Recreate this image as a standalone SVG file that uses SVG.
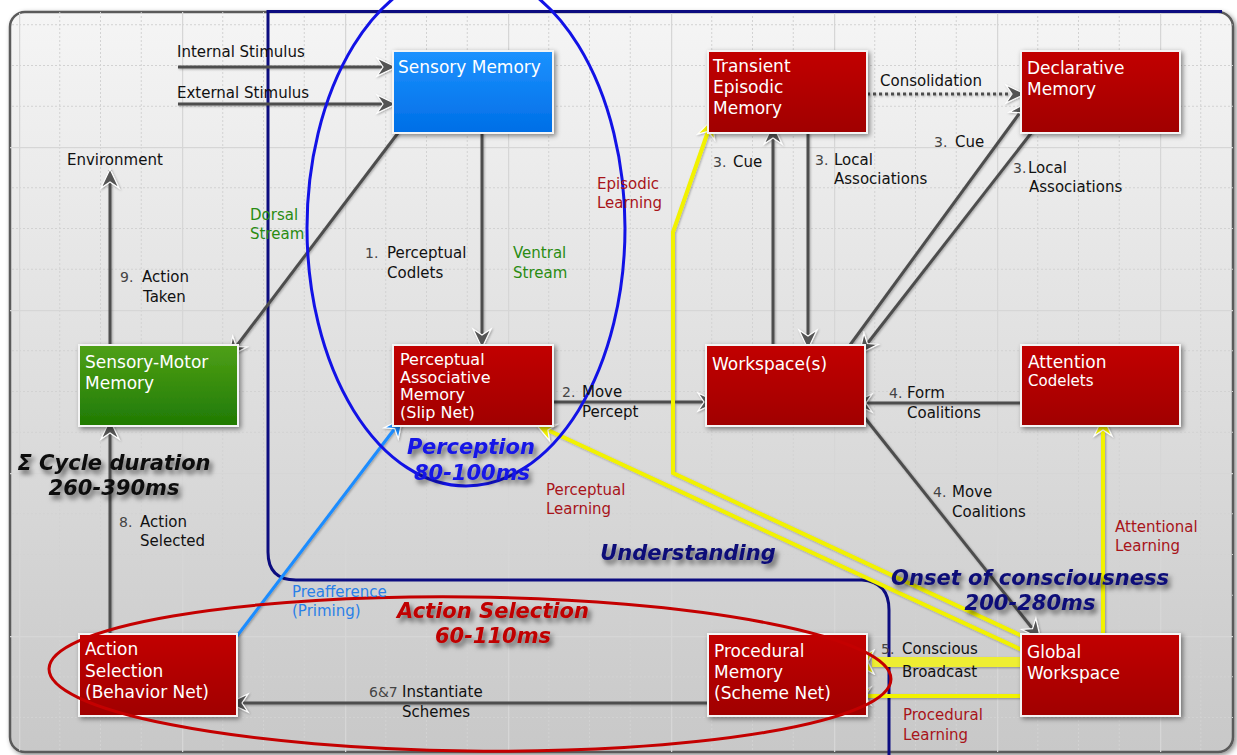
<svg xmlns="http://www.w3.org/2000/svg" width="1237" height="755" viewBox="0 0 1237 755">
<style>
.lbl{font-family:"DejaVu Sans","Liberation Sans",sans-serif;font-size:15px;fill:#111}
.num{font-size:14px;fill:#444}
.red{fill:#a8141a}
.grn{fill:#2a8c12}
.blu{fill:#2a80e8}
.nt{font-family:"DejaVu Sans","Liberation Sans",sans-serif;font-size:17px;fill:#ffffff}
.pam{font-size:16px}
.big{font-family:"DejaVu Sans","Liberation Sans",sans-serif;font-size:21px;font-weight:bold;font-style:italic;text-anchor:middle}
.ln{fill:none;stroke:#4e4e4e;stroke-width:3}
.yl{fill:none;stroke:#f2f200;stroke-width:4}
.node{stroke:#f4f4f4;stroke-width:2}
</style>
<defs>
<linearGradient id="bg" x1="0" y1="0" x2="0" y2="1"><stop offset="0" stop-color="#f5f5f5"/><stop offset="1" stop-color="#c8c8c8"/></linearGradient>
<linearGradient id="gRed" x1="0" y1="0" x2="0" y2="1"><stop offset="0" stop-color="#c20000"/><stop offset="1" stop-color="#a00000"/></linearGradient>
<linearGradient id="gBlue" x1="0" y1="0" x2="0" y2="1"><stop offset="0" stop-color="#1c92ff"/><stop offset="1" stop-color="#006ee6"/></linearGradient>
<linearGradient id="gGreen" x1="0" y1="0" x2="0" y2="1"><stop offset="0" stop-color="#4fa016"/><stop offset="1" stop-color="#1f7a04"/></linearGradient>
<pattern id="grid" patternUnits="userSpaceOnUse" x="19" y="147" width="163" height="163">
<path d="M40.75,0V163M81.5,0V163M122.25,0V163M0,40.75H163M0,81.5H163M0,122.25H163" stroke="#d2d2d2" stroke-width="1" stroke-dasharray="2,2" fill="none"/>
<path d="M0.5,0V163M0,0.5H163" stroke="#d6d6d6" stroke-width="1.5" fill="none"/>
</pattern>
<filter id="sh" x="-20%" y="-20%" width="140%" height="140%"><feDropShadow dx="2" dy="2" stdDeviation="2.5" flood-color="#000" flood-opacity="0.45"/></filter>
<filter id="lsh" x="-10%" y="-10%" width="120%" height="120%"><feDropShadow dx="1" dy="1" stdDeviation="1.2" flood-color="#000" flood-opacity="0.3"/></filter>
<filter id="tsh" x="-10%" y="-30%" width="120%" height="160%"><feDropShadow dx="3" dy="4" stdDeviation="2.5" flood-color="#000" flood-opacity="0.55"/></filter>
<marker id="ag" viewBox="-20 -11 22 22" refX="0" refY="0" markerWidth="22" markerHeight="22" markerUnits="userSpaceOnUse" orient="auto"><path d="M1,0 L-18,-9 L-12,0 L-18,9 Z" fill="#555" stroke="#fff" stroke-width="1.2"/></marker>
<marker id="ay" viewBox="-20 -11 22 22" refX="0" refY="0" markerWidth="22" markerHeight="22" markerUnits="userSpaceOnUse" orient="auto"><path d="M1,0 L-18,-9 L-12,0 L-18,9 Z" fill="#f2f200" stroke="#fff" stroke-width="1.2"/></marker>
<marker id="ab" viewBox="-20 -11 22 22" refX="0" refY="0" markerWidth="22" markerHeight="22" markerUnits="userSpaceOnUse" orient="auto"><path d="M1,0 L-18,-9 L-12,0 L-18,9 Z" fill="#1a8cff" stroke="#fff" stroke-width="1.2"/></marker>
<marker id="ayb" viewBox="-23 -13 25 26" refX="0" refY="0" markerWidth="25" markerHeight="26" markerUnits="userSpaceOnUse" orient="auto"><path d="M1,0 L-21,-12 L-15,0 L-21,12 Z" fill="#f2f200" stroke="#fff" stroke-width="1.2"/></marker>
<clipPath id="pc"><rect x="10" y="12" width="1223" height="740" rx="15"/></clipPath>
</defs>
<rect width="1237" height="755" fill="#fff"/>
<g id="panel">
<rect x="10" y="12" width="1223" height="740" rx="15" fill="url(#bg)" stroke="#5a5a5a" stroke-width="2.5" filter="url(#sh)"/>
<rect x="10" y="12" width="1223" height="740" rx="15" fill="url(#grid)" clip-path="url(#pc)"/>
</g>
<g id="understanding-region">
<path d="M1222,11.5 L268,11.5 L268,552 Q268,580 296,580 L862,580 Q889,582 889,610 L889,755" fill="none" stroke="#0c0c80" stroke-width="3"/>
</g>
<g id="connectors" filter="url(#lsh)">
<path class="ln" d="M178,67 L395,67" marker-end="url(#ag)"/>
<path class="ln" d="M178,104 L395,104" marker-end="url(#ag)"/>
<path class="ln" d="M110,345 L110,170" marker-end="url(#ag)"/>
<path class="ln" d="M398,133 L229,356" marker-end="url(#ag)"/>
<path class="ln" d="M482,133 L482,347" marker-end="url(#ag)"/>
<path class="ln" d="M553,402 L716,402" marker-end="url(#ag)"/>
<path class="ln" d="M773,345 L773,126" marker-end="url(#ag)"/>
<path class="ln" d="M808,133 L808,348" marker-end="url(#ag)"/>
<path class="ln" d="M867,94 L1024,94" stroke-dasharray="3,3" marker-end="url(#ag)"/>
<path class="ln" d="M850,345 L1027,103" marker-end="url(#ag)"/>
<path class="ln" d="M1032,132 L860,353" marker-end="url(#ag)"/>
<path class="ln" d="M1021,403 L854,403" marker-end="url(#ag)"/>
<path class="ln" d="M865,418 L1040,638" marker-end="url(#ag)"/>
<path class="ln" d="M110,634 L110,421" marker-end="url(#ag)"/>
<path class="ln" d="M708,703 L230,703" marker-end="url(#ag)"/>
<path fill="none" stroke="#1a8cff" stroke-width="3" d="M237,636 L402,419" marker-end="url(#ab)"/>
<path class="yl" d="M1022,636 L673,473 L673,232 L712,120" marker-end="url(#ay)"/>
<path class="yl" d="M1022,650 L537,425" marker-end="url(#ay)"/>
<path class="yl" d="M1103,634 L1103,418" marker-end="url(#ay)"/>
<path class="yl" d="M1021,696 L853,696" marker-end="url(#ay)"/>
<path fill="none" stroke="#eeee30" stroke-width="10" d="M1021,662 L872,662"/>
<path fill="none" stroke="none" d="M874,662 L853,662" marker-end="url(#ayb)"/>
</g>
<g id="sensory-memory"><rect class="node" x="393" y="51" width="160" height="82" fill="url(#gBlue)" filter="url(#sh)"/><text class="nt" x="398" y="73">Sensory Memory</text></g>
<g id="transient-episodic-memory"><rect class="node" x="708" y="51" width="159" height="82" fill="url(#gRed)" filter="url(#sh)"/><text class="nt" x="713" y="72">Transient</text><text class="nt" x="713" y="93">Episodic</text><text class="nt" x="713" y="114">Memory</text></g>
<g id="declarative-memory"><rect class="node" x="1021" y="51" width="159" height="82" fill="url(#gRed)" filter="url(#sh)"/><text class="nt" x="1027" y="74">Declarative</text><text class="nt" x="1027" y="95">Memory</text></g>
<g id="sensory-motor-memory"><rect class="node" x="79" y="345" width="159" height="81" fill="url(#gGreen)" filter="url(#sh)"/><text class="nt" x="85" y="368">Sensory-Motor</text><text class="nt" x="85" y="389">Memory</text></g>
<g id="perceptual-associative-memory"><rect class="node" x="393" y="345" width="160" height="81" fill="url(#gRed)" filter="url(#sh)"/><text class="nt pam" x="400" y="365">Perceptual</text><text class="nt pam" x="400" y="382.5">Associative</text><text class="nt pam" x="400" y="400">Memory</text><text class="nt pam" x="400" y="417.5">(Slip Net)</text></g>
<g id="workspaces"><rect class="node" x="706" y="345" width="159" height="81" fill="url(#gRed)" filter="url(#sh)"/><text class="nt" x="712" y="370">Workspace(s)</text></g>
<g id="attention-codelets"><rect class="node" x="1021" y="345" width="159" height="81" fill="url(#gRed)" filter="url(#sh)"/><text class="nt" x="1028" y="368">Attention</text><text class="nt" x="1028" y="386" style="font-size:15px">Codelets</text></g>
<g id="action-selection"><rect class="node" x="79" y="634" width="158" height="82" fill="url(#gRed)" filter="url(#sh)"/><text class="nt" x="85" y="655">Action</text><text class="nt" x="85" y="677">Selection</text><text class="nt" x="85" y="698">(Behavior Net)</text></g>
<g id="procedural-memory"><rect class="node" x="708" y="634" width="159" height="82" fill="url(#gRed)" filter="url(#sh)"/><text class="nt" x="714" y="657">Procedural</text><text class="nt" x="714" y="678">Memory</text><text class="nt" x="714" y="699">(Scheme Net)</text></g>
<g id="global-workspace"><rect class="node" x="1021" y="634" width="159" height="82" fill="url(#gRed)" filter="url(#sh)"/><text class="nt" x="1027" y="658">Global</text><text class="nt" x="1027" y="679">Workspace</text></g>
<g id="regions">
<ellipse cx="466" cy="228" rx="159" ry="258" fill="none" stroke="#1212e6" stroke-width="3"/>
<ellipse cx="470" cy="674" rx="421" ry="77" fill="none" stroke="#c40000" stroke-width="3" transform="rotate(0.7 470 674)"/>
</g>
<g id="labels">
<text class="lbl" x="177" y="57">Internal Stimulus</text>
<text class="lbl" x="177" y="98">External Stimulus</text>
<text class="lbl" x="67" y="165">Environment</text>
<text class="lbl" x="120" y="282"><tspan class="num">9.</tspan><tspan x="142">Action</tspan></text>
<text class="lbl" x="143" y="302">Taken</text>
<text class="lbl grn" x="250" y="220">Dorsal</text>
<text class="lbl grn" x="250" y="239">Stream</text>
<text class="lbl" x="365" y="258"><tspan class="num">1.</tspan><tspan x="387">Perceptual</tspan></text>
<text class="lbl" x="387" y="278">Codlets</text>
<text class="lbl grn" x="513" y="258">Ventral</text>
<text class="lbl grn" x="513" y="278">Stream</text>
<text class="lbl red" x="597" y="189">Episodic</text>
<text class="lbl red" x="597" y="208">Learning</text>
<text class="lbl" x="713" y="167"><tspan class="num">3.</tspan><tspan x="733">Cue</tspan></text>
<text class="lbl" x="815" y="165"><tspan class="num">3.</tspan><tspan x="834">Local</tspan></text>
<text class="lbl" x="834" y="184">Associations</text>
<text class="lbl" x="880" y="86">Consolidation</text>
<text class="lbl" x="934" y="147"><tspan class="num">3.</tspan><tspan x="955">Cue</tspan></text>
<text class="lbl" x="1013" y="173"><tspan class="num">3.</tspan><tspan x="1028">Local</tspan></text>
<text class="lbl" x="1029" y="192">Associations</text>
<text class="lbl" x="562" y="397"><tspan class="num">2.</tspan><tspan x="582">Move</tspan></text>
<text class="lbl" x="582" y="417">Percept</text>
<text class="lbl" x="889" y="398"><tspan class="num">4.</tspan><tspan x="907">Form</tspan></text>
<text class="lbl" x="907" y="418">Coalitions</text>
<text class="lbl" x="933" y="497"><tspan class="num">4.</tspan><tspan x="952">Move</tspan></text>
<text class="lbl" x="952" y="517">Coalitions</text>
<text class="lbl red" x="1115" y="532">Attentional</text>
<text class="lbl red" x="1115" y="551">Learning</text>
<text class="lbl red" x="546" y="495">Perceptual</text>
<text class="lbl red" x="546" y="514">Learning</text>
<text class="lbl" x="119" y="527"><tspan class="num">8.</tspan><tspan x="140">Action</tspan></text>
<text class="lbl" x="140" y="546">Selected</text>
<text class="lbl blu" x="292" y="597">Preafference</text>
<text class="lbl blu" x="292" y="616">(Priming)</text>
<text class="lbl" x="881" y="654"><tspan class="num">5.</tspan><tspan x="902">Conscious</tspan></text>
<text class="lbl" x="902" y="677">Broadcast</text>
<text class="lbl red" x="903" y="720">Procedural</text>
<text class="lbl red" x="903" y="740">Learning</text>
<text class="lbl" x="369" y="697"><tspan class="num">6&amp;7</tspan><tspan x="402">Instantiate</tspan></text>
<text class="lbl" x="402" y="717">Schemes</text>
</g>
<g id="annotations" filter="url(#tsh)">
<text class="big" x="114" y="470" fill="#111">Σ Cycle duration</text>
<text class="big" x="114" y="495" fill="#111">260-390ms</text>
<text class="big" x="471" y="454" fill="#1414e6">Perception</text>
<text class="big" x="472" y="480" fill="#1414e6">80-100ms</text>
<text class="big" x="688" y="560" fill="#0c0c78">Understanding</text>
<text class="big" x="1030" y="585" fill="#0c0c78">Onset of consciousness</text>
<text class="big" x="1030" y="610" fill="#0c0c78">200-280ms</text>
<text class="big" x="493" y="618" fill="#c00000">Action Selection</text>
<text class="big" x="493" y="643" fill="#c00000">60-110ms</text>
</g>
</svg>
